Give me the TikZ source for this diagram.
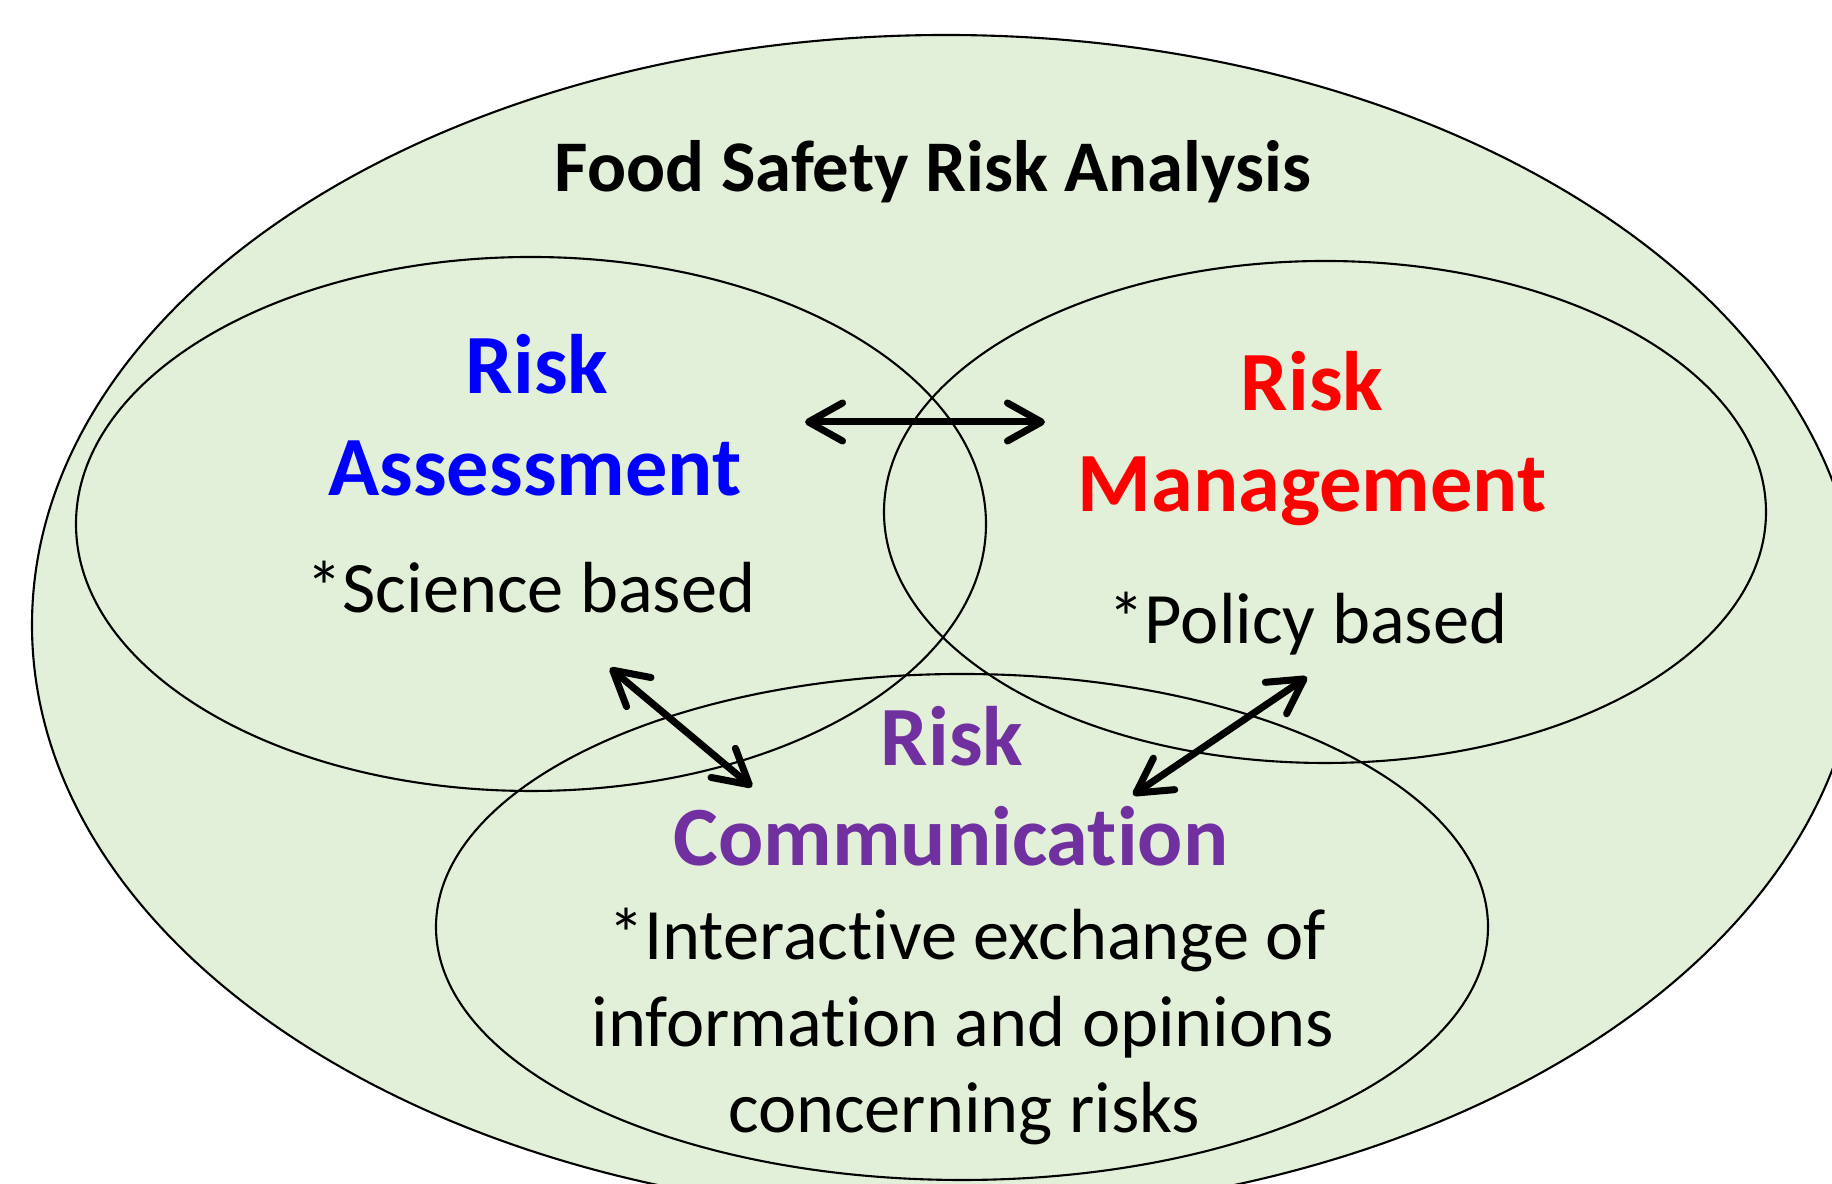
\documentclass[tikz,border=0pt]{standalone}
\usepackage{fontspec}
\setmainfont{Carlito}[Ligatures=NoCommon]
\usetikzlibrary{arrows.meta}

\definecolor{venngreen}{RGB}{226,239,217}
\definecolor{commpurple}{RGB}{112,48,160}

\begin{document}
\begin{tikzpicture}
[line width=0.6pt,
 >={Straight Barb[round,length=3.4mm,width=3.8mm]},
 head/.style={anchor=base,inner sep=0pt,font=\fontsize{24}{29}\selectfont\bfseries},
 note/.style={anchor=base,inner sep=0pt,font=\fontsize{20.6}{24}\selectfont},
 link/.style={<->,line width=2pt,line cap=round},]

\useasboundingbox (0,0) rectangle (18.32,11.84);

%Outer ellipse
\fill[venngreen] (9.46,5.59) ellipse (9.14 and 5.90);
\draw (9.46,5.59) ellipse (9.14 and 5.90);

%Three overlapping ellipses
\draw (5.31,6.60) ellipse (4.55 and 2.67);
\draw (13.25,6.72) ellipse (4.41 and 2.51);
\draw (9.62,2.57) ellipse (5.26 and 2.53);

%Labels
\node (T) at (9.33,9.92)[anchor=base,inner sep=0pt,font=\fontsize{20.7}{24}\selectfont\bfseries] {Food Safety Risk Analysis};

\node (RA1) at (5.37,7.90)[head,blue] {Risk};
\node (RA2) at (5.35,6.88)[head,blue] {Assessment};
\node (RA3) at (5.31,5.71)[note] {*Science based};

\node (RM1) at (13.12,7.73)[head,red] {Risk};
\node (RM2) at (13.12,6.72)[head,red] {Management};
\node (RM3) at (13.08,5.40)[note] {*Policy based};

\node (RC1) at (9.52,4.18)[head,commpurple] {Risk};
\node (RC2) at (9.51,3.18)[head,commpurple] {Communication};
\node (RC3) at (9.67,2.24)[note] {*Interactive exchange of};
\node (RC4) at (9.63,1.37)[note] {information and opinions};
\node (RC5) at (9.64,0.51)[note] {concerning risks};

%Arrow ends
\coordinate (A) at (8.05,7.62);
\coordinate (B) at (10.45,7.62);
\coordinate (C) at (6.10,5.16);
\coordinate (D) at (7.52,3.97);
\coordinate (E) at (13.07,5.07);
\coordinate (F) at (11.33,3.89);

%Drawing arrows
\draw[link] (A) -- (B);
\draw[link] (C) -- (D);
\draw[link] (E) -- (F);

\end{tikzpicture}
\end{document}
